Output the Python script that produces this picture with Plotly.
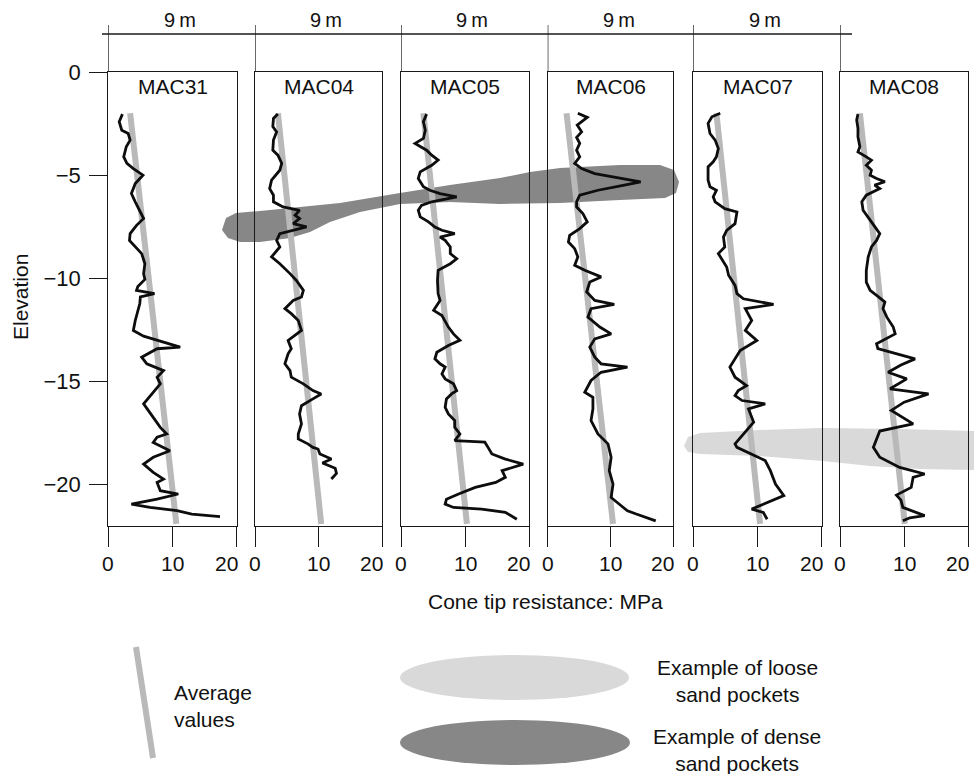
import plotly.graph_objects as go

# ---------------- data ----------------
panel_names = ["MAC31", "MAC04", "MAC05", "MAC06", "MAC07", "MAC08"]
spacing_labels = ["9\u2009m"] * 5
x_ticks = [0, 10, 20]
y_ticks = [0, -5, -10, -15, -20]
y_ticktext = ["0", "\u22125", "\u221210", "\u221215", "\u221220"]

mac31_elev = [-2.04, -2.41, -2.82, -2.98, -3.3, -3.62, -4.11, -4.43, -4.68, -5.0, -5.4, -5.89, -6.29, -6.7,
              -7.1, -7.43, -7.83, -8.16, -8.48, -8.8, -9.29, -9.77, -10.05, -10.4, -10.58, -10.74, -10.9,
              -11.23, -12.04, -12.53, -12.8, -13.0, -13.33, -13.41, -13.82, -14.14, -14.47, -14.79, -15.11,
              -15.6, -16.08, -16.41, -16.73, -17.22, -17.54, -17.7, -17.95, -18.35, -18.67, -19.0, -19.4,
              -19.73, -19.89, -20.29, -20.45, -20.7, -20.94, -21.1, -21.26, -21.42, -21.55]
mac31_qc = [2.2, 1.7, 2.1, 3.1, 3.4, 2.8, 2.4, 2.9, 3.9, 5.4, 4.2, 3.6, 4.2, 4.8,
            5.5, 4.4, 3.4, 3.3, 4.2, 5.2, 5.7, 5.5, 5.7, 4.6, 4.4, 7.2, 5.0,
            4.9, 4.2, 3.9, 5.5, 7.6, 11.2, 7.6, 5.2, 6.0, 8.6, 7.6, 8.1,
            6.8, 5.5, 6.25, 7.0, 8.1, 9.1, 7.6, 7.0, 9.6, 7.0, 5.5, 7.0,
            8.6, 7.6, 8.1, 10.9, 7.6, 3.6, 6.5, 10.7, 13.0, 17.4]

mac04_elev = [-2.04, -2.25, -2.65, -2.9, -3.3, -3.79, -4.03, -4.43, -4.76, -5.24, -5.65, -5.97, -6.29, -6.54,
              -6.7, -6.94, -7.1, -7.35, -7.51, -7.83, -8.16, -8.48, -8.96, -9.29, -9.77, -10.1, -10.58, -10.9,
              -11.07, -11.47, -11.71, -12.04, -12.52, -12.69, -13.01, -13.41, -13.66, -14.14, -14.47, -14.79,
              -15.11, -15.44, -15.6, -15.84, -16.17, -16.57, -17.05, -17.54, -17.78, -18.02, -18.19, -18.27,
              -18.51, -18.75, -18.95, -19.2, -19.45, -19.72]
mac04_qc = [3.6, 2.9, 2.8, 3.4, 2.9, 2.8, 3.6, 4.2, 3.9, 2.6, 2.3, 2.9, 2.9, 4.4,
            7.0, 6.3, 7.0, 6.0, 8.1, 3.9, 3.4, 3.9, 2.6, 3.9, 5.5, 6.5, 7.6, 7.3,
            6.0, 4.7, 5.7, 6.8, 7.3, 6.5, 5.2, 5.7, 5.2, 4.7, 5.5, 5.7,
            7.6, 9.1, 10.4, 9.1, 7.3, 7.0, 7.3, 6.8, 6.8, 8.3, 9.1, 9.9,
            10.2, 12.0, 10.6, 12.6, 12.8, 12.0]

mac05_elev = [-2.04, -2.41, -2.82, -3.22, -3.46, -3.62, -3.79, -4.03, -4.27, -4.52, -4.68, -4.84, -5.16, -5.56,
              -5.73, -5.89, -6.05, -6.21, -6.29, -6.46, -6.7, -7.02, -7.26, -7.51, -7.67, -7.83, -8.0, -8.16,
              -8.48, -8.8, -9.05, -9.29, -9.61, -10.1, -10.74, -11.07, -11.55, -11.8, -12.36, -12.69, -13.0,
              -13.25, -13.58, -13.9, -14.14, -14.3, -14.63, -14.87, -15.11, -15.44, -15.6, -15.84, -16.25,
              -16.57, -16.89, -17.22, -17.54, -17.86, -17.94, -18.19, -18.51, -18.75, -19.0, -19.32, -19.64,
              -19.89, -20.13, -20.45, -20.7, -20.94, -21.1, -21.18, -21.34, -21.67]
mac05_qc = [4.0, 3.5, 3.8, 3.5, 2.2, 3.0, 4.0, 4.8, 5.8, 4.8, 3.8, 3.0, 2.7, 3.5,
            4.5, 6.1, 8.7, 6.4, 4.8, 3.2, 2.7, 3.0, 4.3, 5.3, 6.4, 8.4, 6.1, 6.9,
            7.7, 7.7, 8.7, 7.7, 5.8, 5.7, 5.8, 6.1, 5.1, 6.4, 7.4, 8.2, 9.2,
            7.4, 5.6, 5.3, 6.1, 6.9, 6.4, 6.9, 8.2, 8.7, 7.9, 7.1, 6.9,
            7.4, 8.4, 8.4, 9.2, 8.4, 13.1, 13.6, 14.2, 16.2, 19.1, 15.8, 16.3,
            14.8, 11.6, 9.0, 7.1, 6.9, 8.2, 12.6, 16.3, 18.1]

mac06_elev = [-2.0, -2.2, -2.57, -2.9, -3.17, -3.46, -3.79, -4.11, -4.43, -4.68, -4.92, -5.16, -5.32, -5.48,
              -5.73, -5.97, -6.29, -6.54, -6.86, -7.26, -7.59, -7.91, -8.24, -8.56, -8.96, -9.37, -9.61, -9.93,
              -10.18, -10.66, -11.07, -11.26, -11.47, -11.88, -12.36, -12.69, -12.93, -13.33, -13.82, -14.14,
              -14.3, -14.55, -14.95, -15.52, -15.76, -16.33, -16.89, -17.54, -18.02, -18.67, -19.32, -19.97,
              -20.62, -21.02, -21.26, -21.42, -21.58, -21.75]
mac06_qc = [4.8, 6.3, 4.7, 5.4, 4.6, 5.1, 4.6, 5.1, 4.3, 5.4, 7.5, 11.7, 14.8, 12.2,
            8.0, 5.1, 4.6, 4.6, 5.6, 6.3, 5.1, 3.5, 3.3, 4.3, 4.8, 4.3, 5.9, 8.5,
            6.7, 6.2, 7.5, 10.6, 6.9, 6.4, 8.3, 10.1, 7.5, 6.7, 7.5, 8.5,
            12.7, 8.5, 6.9, 5.9, 7.2, 7.2, 6.9, 8.0, 9.6, 10.1, 9.8, 10.4,
            10.1, 11.7, 12.7, 14.1, 15.6, 17.2]

mac07_elev = [-2.0, -2.17, -2.49, -2.98, -3.3, -3.71, -4.11, -4.35, -4.6, -5.24, -5.56, -5.73, -6.05, -6.29,
              -6.62, -6.78, -7.35, -7.67, -8.0, -8.48, -8.8, -9.05, -9.45, -9.85, -10.34, -10.74, -10.99,
              -11.26, -11.47, -12.04, -12.52, -13.01, -13.5, -14.3, -14.79, -15.2, -15.44, -15.68, -15.92,
              -16.08, -16.33, -16.97, -17.62, -18.02, -18.19, -18.51, -18.83, -19.32, -19.97, -20.53, -20.86,
              -21.18, -21.34, -21.67]
mac07_qc = [4.2, 2.9, 2.3, 2.6, 3.4, 3.9, 3.6, 3.1, 2.3, 2.3, 2.6, 3.6, 3.1, 3.4,
            4.9, 6.8, 6.5, 5.2, 4.7, 4.9, 3.9, 4.4, 5.2, 5.5, 6.5, 6.8, 7.8,
            12.5, 8.1, 9.1, 8.1, 9.9, 7.3, 5.7, 6.5, 8.3, 7.0, 6.5, 7.6,
            11.2, 8.6, 9.4, 7.6, 6.5, 6.8, 9.1, 11.2, 12.0, 12.8, 14.1, 11.7,
            9.1, 10.9, 11.5]

mac08_elev = [-2.04, -2.33, -2.73, -3.14, -3.62, -3.87, -4.11, -4.27, -4.52, -4.76, -5.0, -5.16, -5.32, -5.48,
              -5.65, -5.81, -5.97, -6.29, -6.7, -7.18, -7.59, -7.83, -8.16, -8.48, -8.96, -9.61, -10.18, -10.58,
              -10.9, -11.15, -11.47, -11.88, -12.36, -12.69, -13.17, -13.4, -13.9, -14.2, -14.55, -14.87,
              -15.35, -15.6, -16.0, -16.4, -17.05, -17.4, -18.19, -18.67, -19.16, -19.48, -19.64, -20.13,
              -20.5, -20.75, -21.1, -21.5, -21.6, -21.75]
mac08_qc = [2.8, 2.6, 2.8, 2.8, 3.1, 2.8, 4.1, 4.9, 4.1, 4.9, 4.7, 5.7, 7.0, 5.4,
            6.2, 5.2, 4.1, 3.4, 3.6, 4.7, 5.7, 6.2, 5.7, 4.9, 4.4, 4.1, 4.1, 4.7,
            6.0, 7.0, 6.7, 7.3, 8.3, 8.6, 5.7, 5.9, 11.7, 9.5, 7.5, 10.4,
            7.8, 13.8, 10.0, 8.0, 11.4, 6.2, 5.2, 6.2, 9.3, 13.2, 11.4, 11.1,
            8.8, 9.5, 9.8, 13.2, 10.9, 9.8]

profiles_elev = [mac31_elev, mac04_elev, mac05_elev, mac06_elev, mac07_elev, mac08_elev]
profiles_qc = [mac31_qc, mac04_qc, mac05_qc, mac06_qc, mac07_qc, mac08_qc]

# average-value trend lines (qc at top and bottom elevations)
avg_elev = [-2.0, -21.9]
avg_qc_top = [3.4, 3.6, 3.5, 3.0, 3.6, 3.1]
avg_qc_bottom = [10.6, 10.4, 10.3, 10.4, 10.4, 10.1]

# ---------------- layout helpers ----------------
W, H = 974, 774
FONT = "Liberation Sans, Arial, sans-serif"
panel_px = [(108.3, 236.7), (255.0, 382.3), (401.0, 529.0), (547.7, 673.3), (693.3, 821.7), (840.0, 968.3)]
y_top_px, y_bot_px = 72.0, 526.0
ppu = (y_bot_px - y_top_px) / 22.0


def px(x):
    return x / W


def py(y):
    return 1 - y / H


def elev_of(ypix):
    return -(ypix - y_top_px) / ppu


fig = go.Figure()
LINE = "#1a1a1a"
TXT = "#111111"

for i in range(6):
    n = "" if i == 0 else str(i + 1)
    xa, ya = "x" + n, "y" + n
    fig.add_trace(go.Scatter(x=[avg_qc_top[i], avg_qc_bottom[i]], y=avg_elev, mode="lines",
                             line=dict(color="#b9b9b9", width=6), xaxis=xa, yaxis=ya,
                             showlegend=False, hoverinfo="skip"))
    fig.add_trace(go.Scatter(x=profiles_qc[i], y=profiles_elev[i], mode="lines",
                             line=dict(color="#0d0d0d", width=2.8), xaxis=xa, yaxis=ya,
                             showlegend=False, name=panel_names[i]))
    xkey = "xaxis" + n
    ykey = "yaxis" + n
    fig.layout[xkey] = dict(domain=[px(panel_px[i][0]), px(panel_px[i][1])], range=[0, 20],
                            anchor=ya, tickvals=x_ticks, ticks="outside", ticklen=20, tickwidth=1.3,
                            tickcolor=LINE, showticklabels=False, showline=True, linecolor=LINE,
                            linewidth=1.3, mirror=True, showgrid=False, zeroline=False, fixedrange=True,
                            automargin=False)
    ydict = dict(domain=[py(y_bot_px), py(y_top_px)], range=[-22, 0], anchor=xa,
                 showline=True, linecolor=LINE, linewidth=1.3, mirror=True, showgrid=False,
                 zeroline=False, fixedrange=True, automargin=False)
    if i == 0:
        ydict.update(tickvals=y_ticks, ticktext=y_ticktext, ticks="outside", ticklen=18,
                     tickwidth=1.3, tickcolor=LINE, tickfont=dict(family=FONT, size=22, color=TXT),
                     ticklabelstandoff=4)
    else:
        ydict.update(matches="y", showticklabels=False, ticks="")
    fig.layout[ykey] = ydict

    # tick labels under each panel
    for v in x_ticks:
        fig.add_annotation(x=v, y=py(563), xref=xa, yref="paper",
                           text=str(v), showarrow=False, xanchor="right" if v == 20 else "center",
                           xshift=3 if v == 20 else 0,
                           yanchor="middle", font=dict(family=FONT, size=21, color=TXT))
    # panel name
    fig.add_annotation(x=10, y=py(87), xref=xa, yref="paper", text=panel_names[i], showarrow=False,
                       xanchor="center", yanchor="middle", font=dict(family=FONT, size=21, color=TXT))
    # left edge extending up to the spacing dimension line
    fig.add_shape(type="line", xref=xa, yref="paper", x0=0, x1=0, y0=py(y_top_px), y1=py(25),
                  line=dict(color=LINE, width=1.3))

# spacing dimension line and labels
fig.add_shape(type="line", xref="paper", yref="paper", x0=px(102), x1=px(852), y0=py(34), y1=py(34),
              line=dict(color=LINE, width=1.3))
for k, lab in enumerate(spacing_labels):
    cx = (panel_px[k][0] + panel_px[k + 1][0]) / 2 - 2
    fig.add_annotation(x=px(cx), y=py(20), xref="paper", yref="paper", text=lab, showarrow=False,
                       xanchor="center", yanchor="middle", font=dict(family=FONT, size=20, color=TXT))

# dense / loose sand pocket bands (outline in page pixels)
dense_px = [(222, 230), (226, 218), (236, 213), (260, 211), (300, 207), (340, 203), (400, 193), (450, 185),
            (500, 178), (530, 172), (560, 168), (620, 165), (660, 165), (674, 170), (679, 182), (676, 193),
            (665, 198), (620, 200), (560, 203), (500, 204), (450, 202), (400, 204), (360, 212), (330, 222),
            (310, 232), (290, 238), (260, 242), (240, 242), (228, 238)]
loose_px = [(684, 446), (688, 437), (700, 433), (760, 430), (820, 428), (900, 429), (974, 431),
            (974, 470), (920, 469), (870, 466), (823, 461), (760, 456), (700, 454), (688, 452)]


def band_path(pts):
    return "M " + " L ".join(f"{px(a):.5f},{elev_of(b):.4f}" for a, b in pts) + " Z"


fig.add_shape(type="path", xref="paper", yref="y", path=band_path(dense_px), fillcolor="#878787",
              line=dict(width=0), layer="below")
fig.add_shape(type="path", xref="paper", yref="y", path=band_path(loose_px), fillcolor="#d9d9d9",
              line=dict(width=0), layer="below")

# axis titles
fig.add_annotation(x=px(545), y=py(601), xref="paper", yref="paper", text="Cone tip resistance: MPa",
                   showarrow=False, xanchor="center", yanchor="middle",
                   font=dict(family=FONT, size=21, color=TXT))
fig.add_annotation(x=px(20), y=py(297), xref="paper", yref="paper", text="Elevation", textangle=-90,
                   showarrow=False, xanchor="center", yanchor="middle",
                   font=dict(family=FONT, size=21, color=TXT))

# key
fig.add_shape(type="line", xref="paper", yref="paper", x0=px(136), y0=py(647), x1=px(153), y1=py(758),
              line=dict(color="#b9b9b9", width=6))
fig.add_annotation(x=px(172), y=py(706), xref="paper", yref="paper", text="Average<br>values",
                   showarrow=False, xanchor="left", yanchor="middle", align="left",
                   font=dict(family=FONT, size=21, color=TXT))
fig.add_shape(type="circle", xref="paper", yref="paper", x0=px(400), x1=px(629), y0=py(700), y1=py(655),
              fillcolor="#d9d9d9", line=dict(width=0))
fig.add_shape(type="circle", xref="paper", yref="paper", x0=px(400), x1=px(630), y0=py(765), y1=py(720),
              fillcolor="#878787", line=dict(width=0))
fig.add_annotation(x=px(737), y=py(681), xref="paper", yref="paper", text="Example of loose<br>sand pockets",
                   showarrow=False, xanchor="center", yanchor="middle", align="center",
                   font=dict(family=FONT, size=21, color=TXT))
fig.add_annotation(x=px(737), y=py(750), xref="paper", yref="paper", text="Example of dense<br>sand pockets",
                   showarrow=False, xanchor="center", yanchor="middle", align="center",
                   font=dict(family=FONT, size=21, color=TXT))

fig.update_layout(width=W, height=H, margin=dict(l=0, r=0, t=0, b=0, autoexpand=False),
                  plot_bgcolor="white", paper_bgcolor="white", showlegend=False)

fig.write_html("out.html")
